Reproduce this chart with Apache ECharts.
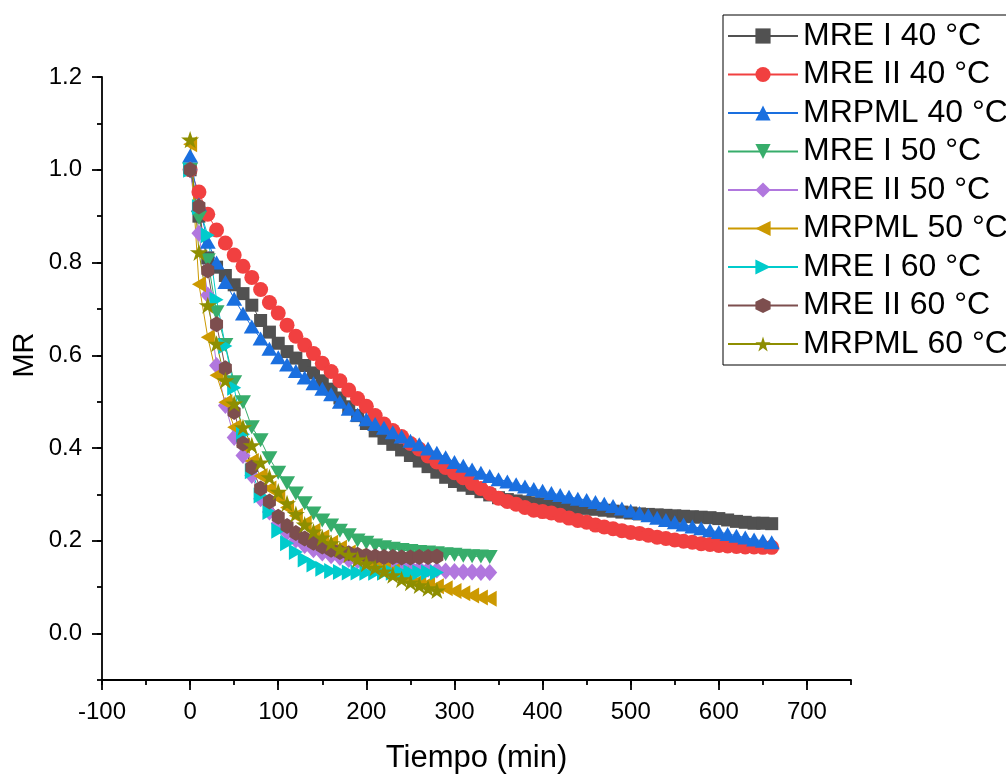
<!DOCTYPE html>
<html>
<head>
<meta charset="utf-8">
<script src="https://cdn.jsdelivr.net/npm/echarts@6/dist/echarts.min.js"></script>
<style>html,body{margin:0;padding:0;background:#fff}#c{width:1006px;height:775px}</style>
</head>
<body>
<div id="c"></div>
<script>
// ---- data ----
const time40 = [0,10,20,30,40,50,60,70,80,90,100,110,120,130,140,150,160,170,180,190,200,210,220,230,240,250,260,270,280,290,300,310,320,330,340,350,360,370,380,390,400,410,420,430,440,450,460,470,480,490,500,510,520,530,540,550,560,570,580,590,600,610,620,630,640,650,660];
const time50 = [0,10,20,30,40,50,60,70,80,90,100,110,120,130,140,150,160,170,180,190,200,210,220,230,240,250,260,270,280,290,300,310,320,330,340];
const time60 = [0,10,20,30,40,50,60,70,80,90,100,110,120,130,140,150,160,170,180,190,200,210,220,230,240,250,260,270,280];

const mreI40 = [1.000,0.900,0.810,0.790,0.772,0.752,0.733,0.708,0.675,0.650,
  0.626,0.608,0.594,0.578,0.562,0.545,0.527,0.508,0.489,0.470,
  0.453,0.437,0.421,0.408,0.396,0.384,0.372,0.360,0.348,0.337,
  0.328,0.320,0.313,0.306,0.299,0.293,0.289,0.286,0.284,0.282,
  0.280,0.278,0.276,0.274,0.272,0.270,0.268,0.266,0.264,0.262,
  0.260,0.258,0.257,0.256,0.255,0.254,0.253,0.252,0.251,0.250,
  0.248,0.245,0.242,0.240,0.238,0.238,0.237];
const mreII40 = [1.000,0.952,0.904,0.870,0.842,0.816,0.792,0.768,0.742,0.714,
  0.691,0.665,0.641,0.622,0.604,0.583,0.565,0.545,0.525,0.507,
  0.490,0.470,0.452,0.438,0.425,0.410,0.398,0.383,0.370,0.358,
  0.347,0.336,0.324,0.313,0.302,0.292,0.285,0.279,0.272,0.266,
  0.263,0.260,0.255,0.249,0.244,0.240,0.234,0.230,0.226,0.222,
  0.218,0.216,0.212,0.208,0.205,0.202,0.199,0.197,0.194,0.192,
  0.190,0.189,0.188,0.187,0.187,0.186,0.186];
const mrpml40 = [1.030,0.925,0.845,0.800,0.758,0.722,0.690,0.662,0.636,0.614,
  0.596,0.580,0.566,0.552,0.540,0.528,0.516,0.500,0.485,0.472,
  0.462,0.452,0.444,0.434,0.425,0.416,0.408,0.399,0.390,0.380,
  0.370,0.362,0.354,0.347,0.340,0.333,0.328,0.322,0.317,0.312,
  0.308,0.303,0.299,0.295,0.291,0.288,0.284,0.280,0.275,0.270,
  0.265,0.260,0.255,0.250,0.245,0.240,0.235,0.231,0.227,0.223,
  0.219,0.215,0.211,0.207,0.203,0.200,0.197];
const mreI50 = [1.000,0.896,0.805,0.693,0.622,0.542,0.499,0.445,0.417,0.378,
  0.347,0.324,0.302,0.281,0.259,0.244,0.233,0.222,0.212,0.201,
  0.196,0.190,0.186,0.183,0.180,0.178,0.176,0.175,0.173,0.171,
  0.170,0.168,0.167,0.166,0.165];
const mreII50 = [1.000,0.863,0.730,0.578,0.492,0.423,0.384,0.341,0.291,0.262,
  0.238,0.218,0.202,0.190,0.181,0.174,0.168,0.164,0.160,0.157,
  0.153,0.151,0.149,0.147,0.145,0.143,0.141,0.139,0.137,0.135,
  0.134,0.133,0.133,0.132,0.132];
const mrpml50 = [1.055,0.753,0.639,0.557,0.499,0.445,0.405,0.372,0.340,0.313,
  0.292,0.272,0.254,0.238,0.222,0.208,0.196,0.185,0.175,0.166,
  0.157,0.150,0.142,0.135,0.128,0.121,0.114,0.108,0.102,0.098,
  0.092,0.087,0.082,0.078,0.075];
const mreI60 = [1.000,0.920,0.859,0.720,0.620,0.530,0.430,0.350,0.298,0.262,
  0.222,0.195,0.176,0.160,0.149,0.140,0.135,0.133,0.132,0.132,
  0.131,0.131,0.131,0.131,0.132,0.132,0.132,0.132,0.132];
const mreII60 = [1.000,0.921,0.783,0.667,0.572,0.478,0.410,0.358,0.313,0.285,
  0.252,0.232,0.217,0.205,0.196,0.188,0.181,0.176,0.173,0.170,
  0.168,0.166,0.165,0.165,0.164,0.164,0.165,0.165,0.166];
const mrpml60 = [1.065,0.822,0.708,0.625,0.546,0.496,0.445,0.406,0.369,0.337,
  0.306,0.281,0.258,0.235,0.220,0.207,0.195,0.182,0.170,0.160,
  0.151,0.142,0.134,0.126,0.117,0.110,0.104,0.098,0.093];

const seriesNames = ['MRE I 40 °C','MRE II 40 °C','MRPML 40 °C','MRE I 50 °C','MRE II 50 °C','MRPML 50 °C','MRE I 60 °C','MRE II 60 °C','MRPML 60 °C'];
const xTickValues = [-100,0,100,200,300,400,500,600,700];
const yTickValues = [0,0.2,0.4,0.6,0.8,1.0,1.2];
const xTitle = 'Tiempo (min)';
const yTitle = 'MR';

// ---- styling ----
const FONT = '"Liberation Sans", Arial, sans-serif';
const HEX = 'path://M0,-1 L0.866,-0.5 L0.866,0.5 L0,1 L-0.866,0.5 L-0.866,-0.5 Z';
const STAR = 'path://M0,-1 L0.2245,-0.309 L0.951,-0.309 L0.363,0.118 L0.588,0.809 L0,0.382 L-0.588,0.809 L-0.363,0.118 L-0.951,-0.309 L-0.2245,-0.309 Z';
const styles = [
  {color:'#515151', symbol:'rect', size:13, rot:0},
  {color:'#F14040', symbol:'circle', size:15, rot:0},
  {color:'#1A6FDF', symbol:'triangle', size:[16,14], rot:0},
  {color:'#37AD6B', symbol:'triangle', size:[16,14], rot:180},
  {color:'#B177DE', symbol:'diamond', size:[15,17], rot:0},
  {color:'#CC9900', symbol:'triangle', size:[16,14], rot:90},
  {color:'#00CBCC', symbol:'triangle', size:[16,14], rot:-90},
  {color:'#7D4E4E', symbol:HEX, size:[15,16], rot:0},
  {color:'#8E8E00', symbol:STAR, size:18, rot:0}
];
const sets = [
  [time40, mreI40],[time40, mreII40],[time40, mrpml40],
  [time50, mreI50],[time50, mreII50],[time50, mrpml50],
  [time60, mreI60],[time60, mreII60],[time60, mrpml60]
];

const series = sets.map((s, i) => ({
  name: seriesNames[i],
  type: 'line',
  xAxisIndex: 0, yAxisIndex: 0,
  data: s[0].map((t, k) => [t, s[1][k]]),
  symbol: styles[i].symbol,
  symbolSize: styles[i].size,
  symbolRotate: styles[i].rot,
  symbolKeepAspect: true,
  showAllSymbol: true,
  itemStyle: {color: styles[i].color, opacity: 1},
  lineStyle: {color: styles[i].color, width: 1},
  emphasis: {disabled: true},
  animation: false
}));

const axisLine = {show: true, onZero: false, lineStyle: {color: '#000', width: 1.8}};
const tickLine = {color: '#000', width: 1.8};

const option = {
  animation: false,
  backgroundColor: '#fff',
  grid: {left: 102, right: 155, top: 77, bottom: 95, outerBoundsMode: 'none', containLabel: false},
  xAxis: [
    {
      type: 'value', min: -100, max: 750, interval: 50, position: 'bottom',
      axisLine: axisLine,
      axisTick: {show: true, inside: false, length: 5, lineStyle: tickLine},
      axisLabel: {
        formatter: v => (Math.round(v) % 100 === 0 && v <= 700) ? String(Math.round(v)) : '',
        fontSize: 24, color: '#000', fontFamily: FONT, margin: 20
      },
      splitLine: {show: false},
      name: xTitle, nameLocation: 'middle', nameGap: 63,
      nameTextStyle: {fontSize: 31, color: '#000', fontFamily: FONT}
    },
    {
      type: 'value', min: -100, max: 750, position: 'bottom',
      axisLine: {show: false, onZero: false},
      axisTick: {show: true, inside: false, length: 10, customValues: xTickValues, lineStyle: tickLine},
      axisLabel: {show: false},
      splitLine: {show: false}
    }
  ],
  yAxis: [
    {
      type: 'value', min: -0.1, max: 1.2, interval: 0.1, position: 'left',
      axisLine: axisLine,
      axisTick: {show: true, inside: false, length: 5, lineStyle: tickLine},
      axisLabel: {
        formatter: v => { const k = Math.round(v * 10); return (k >= 0 && k % 2 === 0) ? (k / 10).toFixed(1) : ''; },
        fontSize: 24, color: '#000', fontFamily: FONT, margin: 20
      },
      splitLine: {show: false}
    },
    {
      type: 'value', min: -0.1, max: 1.2, position: 'left',
      axisLine: {show: false, onZero: false},
      axisTick: {show: true, inside: false, length: 10, customValues: yTickValues, lineStyle: tickLine},
      axisLabel: {show: false},
      splitLine: {show: false}
    }
  ],
  graphic: [{
    type: 'text', x: 25, y: 355, rotation: Math.PI / 2,
    style: {text: yTitle, fontSize: 29, fontFamily: FONT, fill: '#000', align: 'center', verticalAlign: 'middle'}
  }],
  legend: {
    orient: 'vertical', left: 723, top: 15,
    padding: [4, 12, 4, 4],
    itemWidth: 70, itemHeight: 19, itemGap: 4.5,
    borderColor: '#000', borderWidth: 1,
    textStyle: {fontSize: 32, color: '#000', fontFamily: FONT, lineHeight: 34},
    data: seriesNames
  },
  series: series
};

const chart = echarts.init(document.getElementById('c'), null, {renderer: 'canvas'});
chart.setOption(option);
</script>
</body>
</html>
